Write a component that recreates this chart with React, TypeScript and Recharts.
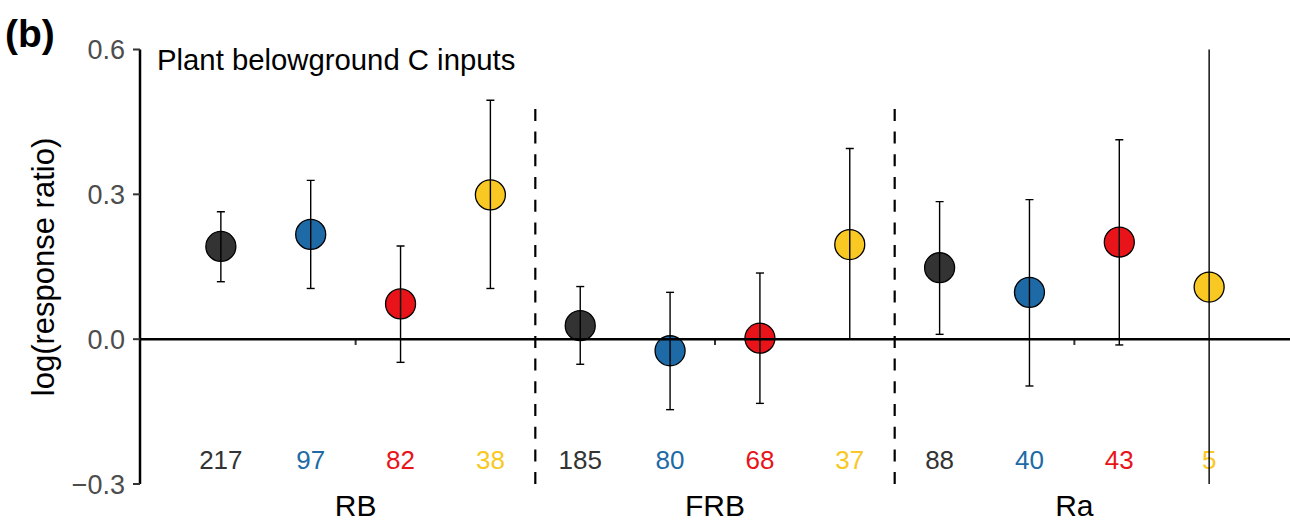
import React from 'react';
import { ScatterChart, Scatter, XAxis, YAxis, ErrorBar, ReferenceLine } from 'recharts';

// ---- data ----
const groups = ['RB', 'FRB', 'Ra'];
const seriesColors = ['#333333', '#1E6AA6', '#E8141A', '#F9C823'];
// per group, 4 series (dark, blue, red, yellow)
const meanRB = [0.192, 0.217, 0.073, 0.299];
const lowRB = [0.119, 0.105, -0.048, 0.105];
const highRB = [0.264, 0.329, 0.193, 0.495];
const meanFRB = [0.028, -0.024, 0.002, 0.196];
const lowFRB = [-0.052, -0.146, -0.133, 0.0];
const highFRB = [0.109, 0.097, 0.137, 0.395];
const meanRa = [0.148, 0.097, 0.201, 0.108];
const lowRa = [0.01, -0.097, -0.012, -0.34];
const highRa = [0.285, 0.289, 0.413, 0.64];
const countRB = [217, 97, 82, 38];
const countFRB = [185, 80, 68, 37];
const countRa = [88, 40, 43, 5];
const yTicks = [-0.3, 0, 0.3, 0.6];
const dividers = [1.5, 2.5];
const dividerTop = 0.477;
const countLabelY = -0.25;

const means = [meanRB, meanFRB, meanRa];
const lows = [lowRB, lowFRB, lowRa];
const highs = [highRB, highFRB, highRa];
const counts = [countRB, countFRB, countRa];
const DODGE = 0.25;

const points: any[] = [];
const labels: any[] = [];
groups.forEach((g, gi) => {
  for (let s = 0; s < 4; s++) {
    const x = gi + 1 + (s - 1.5) * DODGE;
    const m = means[gi][s];
    points.push({ x, y: m, err: [m - lows[gi][s], highs[gi][s] - m], color: seriesColors[s] });
    labels.push({ x, y: countLabelY, n: counts[gi][s], color: seriesColors[s] });
  }
});

const FONT = '"Liberation Sans", Arial, Helvetica, sans-serif';

const fmtY = (v: number) => (v < 0 ? '\u2212' + Math.abs(v).toFixed(1) : v.toFixed(1));

const Dot = (props: any) => {
  const { cx, cy, payload } = props;
  return <circle cx={cx} cy={cy} r={15} fill={payload.color} stroke="#000" strokeWidth={1.3} />;
};

const CountText = (props: any) => {
  const { cx, cy, payload } = props;
  return (
    <text x={cx} y={cy} dy="0.36em" textAnchor="middle" fontSize={26} fontFamily={FONT} fill={payload.color}>
      {payload.n}
    </text>
  );
};

export default function App() {
  return (
    <div style={{ position: 'absolute', left: 0, top: 0, width: 1290, height: 522, background: '#fff' }}>
      <ScatterChart width={1290} height={522} margin={{ top: 49.5, right: 0, bottom: 0, left: 0 }}>
        <XAxis
          type="number"
          dataKey="x"
          domain={[0.4, 3.6]}
          ticks={[1, 2, 3]}
          tickFormatter={(v: number) => groups[Math.round(v) - 1]}
          axisLine={false}
          tickLine={false}
          tickSize={6}
          tickMargin={5}
          height={38}
          allowDataOverflow
          tick={{ fill: '#000', fontSize: 30, fontFamily: FONT }}
        />
        <YAxis
          type="number"
          dataKey="y"
          domain={[-0.3, 0.6]}
          ticks={yTicks}
          allowDataOverflow
          width={140}
          tickFormatter={fmtY}
          tickSize={7}
          tickMargin={8}
          axisLine={{ stroke: '#000', strokeWidth: 2.5 }}
          tickLine={{ stroke: '#333', strokeWidth: 2 }}
          tick={{ fill: '#4D4D4D', fontSize: 27, fontFamily: FONT }}
        />
        {dividers.map((d) => (
          <ReferenceLine
            key={d}
            segment={[{ x: d, y: dividerTop }, { x: d, y: -0.3 }]}
            stroke="#000"
            strokeWidth={2.2}
            strokeDasharray="12 10.7"
          />
        ))}
        <Scatter data={labels} shape={CountText} isAnimationActive={false} />
        <Scatter data={points} shape={Dot} isAnimationActive={false}>
          <ErrorBar dataKey="err" direction="y" width={4} stroke="#000" strokeWidth={1.4} zIndex={0} />
        </Scatter>
        <ReferenceLine y={0} stroke="#000" strokeWidth={2.5} zIndex={700} />
        {[1, 2, 3].map((g) => (
          <ReferenceLine key={'t' + g} segment={[{ x: g, y: 0 }, { x: g, y: -0.012 }]} stroke="#333" strokeWidth={2} />
        ))}
        <text x={5} y={47} fontSize={39} fontWeight="bold" fontFamily={FONT} fill="#000">(b)</text>
        <text x={157} y={69.5} fontSize={29.3} fontFamily={FONT} fill="#000">Plant belowground C inputs</text>
        <text
          x={54}
          y={267}
          fontSize={31}
          fontFamily={FONT}
          fill="#000"
          textAnchor="middle"
          transform="rotate(-90 54 267)"
        >
          log(response ratio)
        </text>
      </ScatterChart>
    </div>
  );
}
